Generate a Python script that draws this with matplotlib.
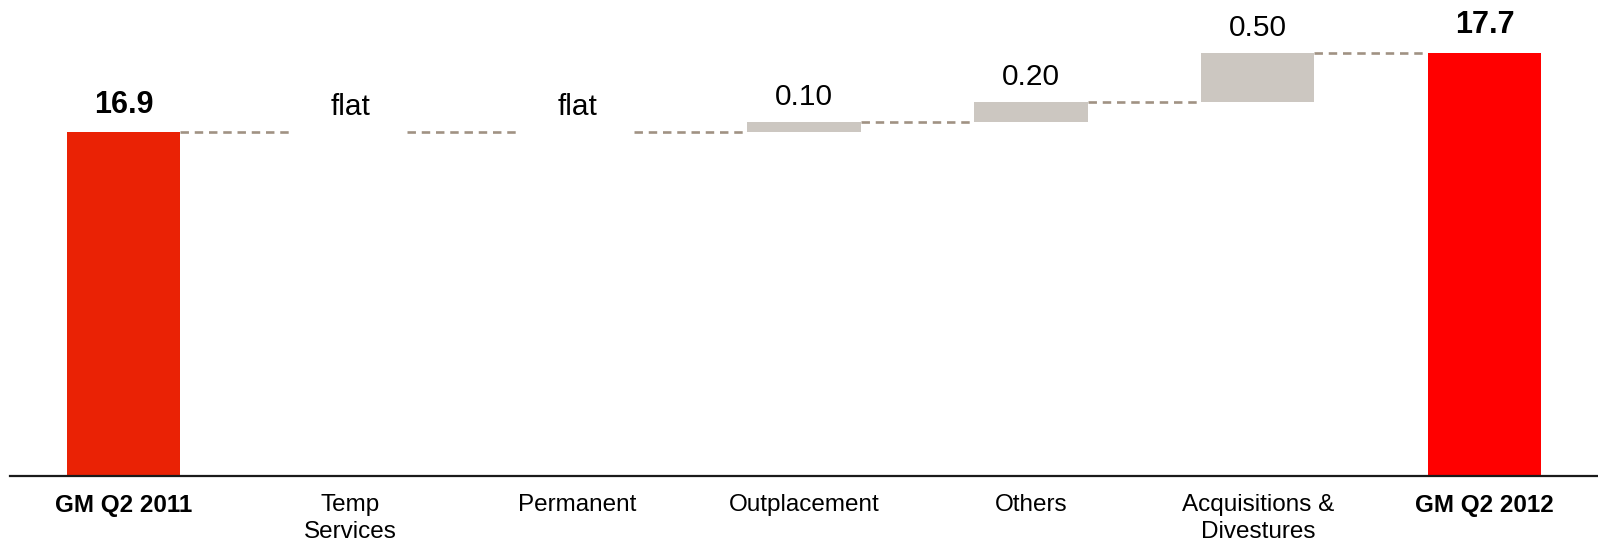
import numpy as np
import matplotlib.pyplot as plt

plt.rcParams['font.family'] = ['Liberation Sans', 'DejaVu Sans']

categories = ['GM Q2 2011', 'Temp\nServices', 'Permanent', 'Outplacement',
              'Others', 'Acquisitions &\nDivestures', 'GM Q2 2012']
start_value = 16.9
deltas = [0.0, 0.0, 0.10, 0.20, 0.50]
delta_labels = ['flat', 'flat', '0.10', '0.20', '0.50']
end_value = 17.7

RED_START = '#EA2205'
RED_END = '#FF0000'
GREY = '#CCC7C1'
LINK = '#A09283'

fig = plt.figure(figsize=(15.98, 5.45), dpi=100)
ax = fig.add_axes([0.0064, 0.127, 0.9936, 0.873])

x = np.arange(len(categories))
width = 0.5
y_min = 13.44

# running totals before / after each step
levels = start_value + np.concatenate([[0], np.cumsum(deltas)])

# totals
ax.bar(x[0], start_value - y_min, bottom=y_min, width=width, color=RED_START, zorder=2)
ax.bar(x[-1], end_value - y_min, bottom=y_min, width=width, color=RED_END, zorder=2)

# steps
for i, d in enumerate(deltas):
    if d > 0:
        ax.bar(x[i + 1], d, bottom=levels[i], width=width, color=GREY, zorder=2)

# dashed connectors between neighbouring bars
tops = list(levels) + [end_value]
for i in range(len(categories) - 1):
    ax.plot([x[i] + width / 2, x[i + 1] - width / 2], [tops[i], tops[i]],
            ls=(0, (3.2, 2.2)), color=LINK, lw=1.9, zorder=1)

# value labels
ax.annotate(f'{start_value:.1f}', (x[0], start_value), xytext=(0, 9),
            textcoords='offset points', ha='center', va='bottom',
            fontsize=22, fontweight='bold')
ax.annotate(f'{end_value:.1f}', (x[-1], end_value), xytext=(0, 9),
            textcoords='offset points', ha='center', va='bottom',
            fontsize=22, fontweight='bold')
for i, lab in enumerate(delta_labels):
    ax.annotate(lab, (x[i + 1], levels[i + 1]), xytext=(0, 8),
                textcoords='offset points', ha='center', va='bottom',
                fontsize=21.5)

ax.set_xlim(-0.5, len(categories) - 0.5)
ax.set_ylim(y_min, 18.23)

ax.set_xticks(x)
ax.set_xticklabels(categories, fontsize=17.5, va='top', linespacing=1.3)
for i in (0, len(categories) - 1):
    ax.get_xticklabels()[i].set_fontweight('bold')
ax.tick_params(axis='x', length=0, pad=13)
ax.set_yticks([])

for s in ('top', 'right', 'left'):
    ax.spines[s].set_visible(False)
ax.spines['bottom'].set_linewidth(1.6)
ax.spines['bottom'].set_color('#1A1A1A')

fig.savefig('out.png', dpi=100)
